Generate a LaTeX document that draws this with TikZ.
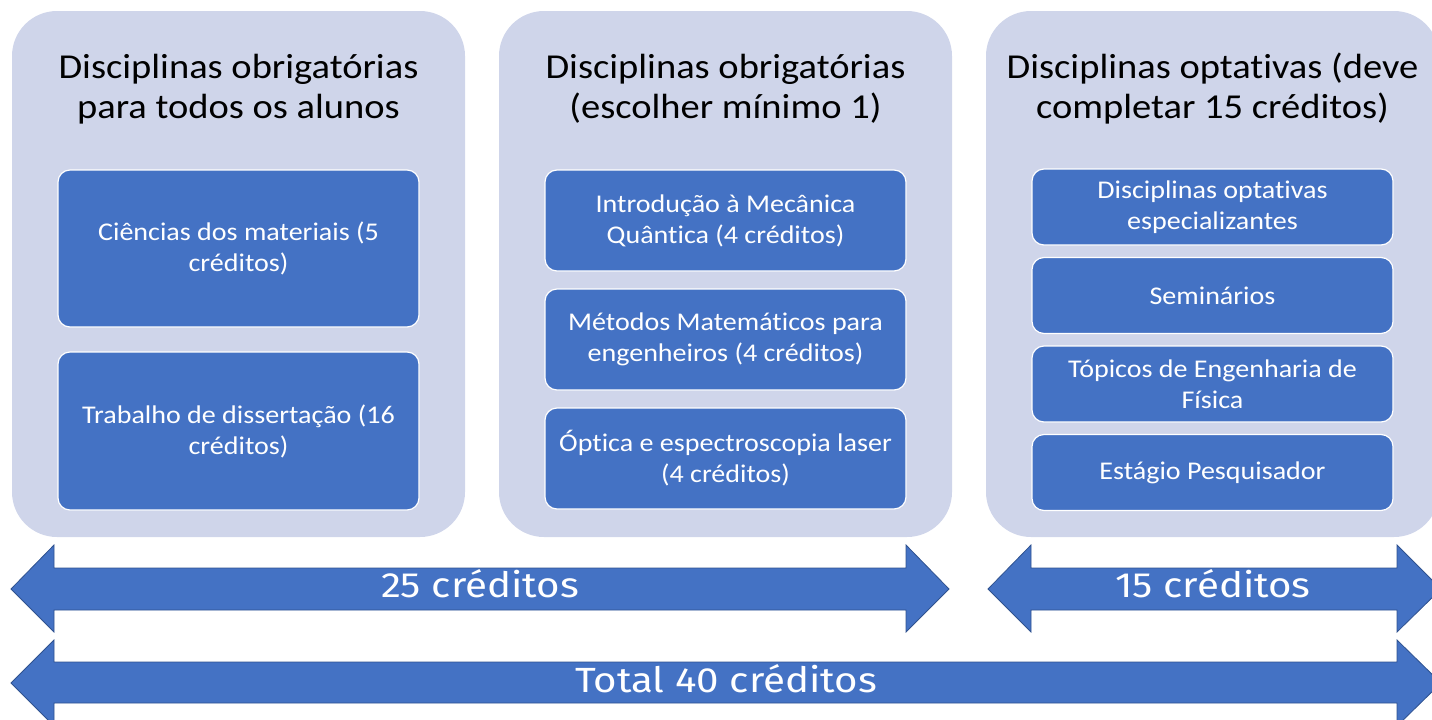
\documentclass[tikz,border=0pt]{standalone}
\usepackage{fontspec}
\newfontfamily\calibfont[FakeStretch=1.1,RawFeature={-liga;-calt;-clig}]{Carlito}
\newfontfamily\firafont[FakeStretch=1.15]{Fira Sans}
\usetikzlibrary{positioning}
\definecolor{panelfill}{HTML}{CFD5EA}
\definecolor{boxfill}{HTML}{4472C4}
\definecolor{arrowline}{HTML}{2F528F}
\tikzset{
  panel/.style={fill=panelfill, rounded corners=45pt, minimum width=453pt, minimum height=526pt, inner sep=0pt},
  paneltitle/.style={align=center, font=\calibfont\fontsize{35}{40}\selectfont, inner sep=0pt},
  course/.style={fill=boxfill, draw=white, line width=1.2pt, rounded corners=12pt, minimum width=361pt, text=white, align=center, font=\calibfont\fontsize{25.5}{31}\selectfont, inner sep=0pt, outer sep=0pt},
  blockarrow/.style={fill=boxfill, draw=arrowline, line width=0.8pt},
  arrowlabel/.style={text=white, font=\firafont\fontsize{35}{40}\selectfont, inner sep=0pt, anchor=base}
}
\begin{document}
\begin{tikzpicture}[x=1pt,y=-1pt]
      \useasboundingbox (0,0) rectangle (1432,720);
      \clip (0,0) rectangle (1432,720);
      \node[panel] (todos) at (238.5,274) {};
      \node[panel] (escolher) at (725.5,274) {};
      \node[panel] (optativas) at (1212.5,274) {};
      \node[paneltitle] (todostitle) at (238.5,89) {Disciplinas obrigatórias\\para todos os alunos};
      \node[paneltitle] (escolhertitle) at (725.5,89) {Disciplinas obrigatórias\\(escolher mínimo 1)};
      \node[paneltitle] (optativastitle) at (1212.5,89) {Disciplinas optativas (deve\\completar 15 créditos)};
      \node[course, minimum height=157pt] (materiais) at (238.5,248.5) {Ciências dos materiais (5\\créditos)};
      \node[course, minimum height=158pt, below=25pt of materiais] (dissertacao) {Trabalho de dissertação (16\\créditos)};
      \node[course, minimum height=101pt] (quantica) at (725.5,220.5) {Introdução à Mecânica\\Quântica (4 créditos)};
      \node[course, minimum height=101pt, below=18pt of quantica] (metodos) {Métodos Matemáticos para\\engenheiros (4 créditos)};
      \node[course, minimum height=101pt, below=18pt of metodos] (optica) {Óptica e espectroscopia laser\\(4 créditos)};
      \node[course, minimum height=76pt] (especial) at (1212.5,207) {Disciplinas optativas\\especializantes};
      \node[course, minimum height=76pt, below=12.5pt of especial] (seminarios) {Seminários};
      \node[course, minimum height=76pt, below=12.5pt of seminarios] (topicos) {Tópicos de Engenharia de\\Física};
      \node[course, minimum height=76pt, below=12.5pt of topicos] (estagio) {Estágio Pesquisador};
      \draw[blockarrow] (11,589) -- (54,545) -- (54,568) -- (906,568) -- (906,545) -- (949,589) -- (906,632) -- (906,610) -- (54,610) -- (54,632) -- cycle;
      \draw[blockarrow] (988,589) -- (1031,545) -- (1031,568) -- (1397,568) -- (1397,545) -- (1441,589) -- (1397,632) -- (1397,610) -- (1031,610) -- (1031,632) -- cycle;
      \draw[blockarrow] (11,683) -- (54,640) -- (54,662) -- (1397,662) -- (1397,640) -- (1441,683) -- (1397,726) -- (1397,703) -- (54,703) -- (54,726) -- cycle;
      \node[arrowlabel] (vinte) at (480,597) {25 créditos};
      \node[arrowlabel] (quinze) at (1213,597) {15 créditos};
      \node[arrowlabel] (total) at (726,692) {Total 40 créditos};
\end{tikzpicture}
\end{document}
